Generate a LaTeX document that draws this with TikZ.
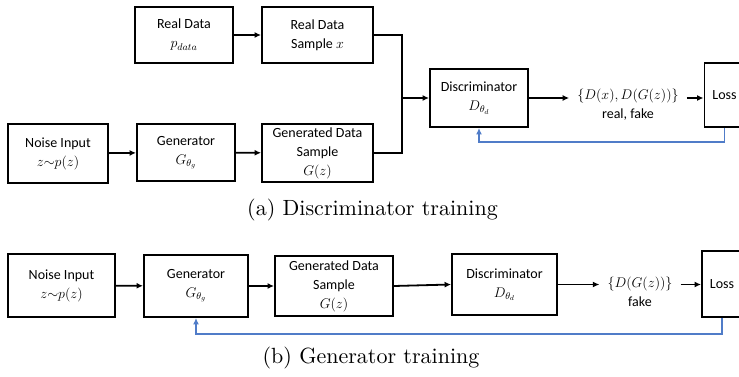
\RequirePackage{fix-cm}
\documentclass[tikz,border=0pt]{standalone}
\usepackage{fontspec}
\setmainfont{Carlito}
\newfontfamily\capfont{lmroman10-regular.otf}
\usetikzlibrary{arrows.meta}
\definecolor{fbblue}{RGB}{80,124,200}
\newcommand{\boxfont}{\fontsize{14}{19}\selectfont}
\begin{document}
\begin{tikzpicture}[x=1pt,y=-1pt,
  box/.style={draw, line width=1.9pt, align=center, font=\boxfont, inner sep=0pt},
  lbl/.style={align=center, font=\boxfont, inner ysep=0pt, inner xsep=8pt},
  arr/.style={line width=1.8pt, -{Latex[length=6.5pt,width=6pt]}},
  fb/.style={draw=fbblue, line width=1.8pt, -{Latex[length=6.5pt,width=6pt]}},
  captext/.style={font=\capfont\fontsize{22}{26}\selectfont, anchor=base, inner sep=0pt}]
\useasboundingbox (0,0) rectangle (739,377);

% ---------- (a) ----------
\node[box, minimum width=98pt, minimum height=56pt] (rd) at (184,35) {Real Data\\$p_{data}$};
\node[box, minimum width=111pt, minimum height=56pt] (rds) at (317.5,35) {Real Data\\Sample $x$};
\node[box, minimum width=100pt, minimum height=59pt] (ni1) at (58,153.5) {Noise Input\\$z{\sim}p(z)$};
\node[box, minimum width=98pt, minimum height=57pt] (gen1) at (186,152.5) {Generator\\$G_{\theta_g}$};
\node[box, minimum width=111pt, minimum height=58pt] (gds1) at (317.5,153) {Generated Data\\Sample\\$G(z)$};
\node[box, minimum width=98pt, minimum height=58pt] (disc1) at (479,98) {Discriminator\\$D_{\theta_d}$};
\node[lbl] (o1) at (628,104.5) {$\{D(x),D(G(z))\}$\\real, fake};
\node[box, minimum width=40pt, minimum height=64pt] (loss1) at (724.5,95) {Loss};

\coordinate (j1) at (402,153);
\coordinate (jm1) at (402,98);
\draw[arr] (rd) -- (rds);
\draw[arr] (ni1) -- (gen1);
\draw[arr] (gen1) -- (gds1);
\draw[line width=1.8pt] (rds.east) -| (j1) -- (gds1.east);
\draw[arr] (jm1) -- (disc1.west);
\draw[arr] (disc1.east) -- (disc1.east -| o1.west);
\draw[arr] (o1.east |- disc1.east) -- (loss1.west |- disc1.east);
\draw[fb] (loss1.south) -- ++(0,14) -| (disc1.south);

\node[captext] (capa) at (372.5,215) {(a) Discriminator training};

% ---------- (b) ----------
\node[box, minimum width=107pt, minimum height=63pt] (ni2) at (61.5,285.5) {Noise Input\\$z{\sim}p(z)$};
\node[box, minimum width=104pt, minimum height=62pt] (gen2) at (196,286) {Generator\\$G_{\theta_g}$};
\node[box, minimum width=118pt, minimum height=60pt] (gds2) at (334,286) {Generated Data\\Sample\\$G(z)$};
\node[box, minimum width=105pt, minimum height=61pt] (disc2) at (504.5,284.5) {Discriminator\\$D_{\theta_d}$};
\node[lbl] (o2) at (640,292) {$\{D(G(z))\}$\\fake};
\node[box, minimum width=40pt, minimum height=66pt] (loss2) at (722,284) {Loss};

\draw[arr] (ni2) -- (gen2);
\draw[arr] (gen2) -- (gds2);
\draw[arr] (gds2.east) -- (disc2.west);
\draw[arr] (disc2.east) -- (disc2.east -| o2.west);
\draw[arr] (o2.east |- disc2.east) -- (loss2.west |- disc2.east);
\draw[fb] (loss2.south) -- ++(0,16) -| (gen2.south);

\node[captext] (capb) at (371,363) {(b) Generator training};
\end{tikzpicture}
\end{document}
